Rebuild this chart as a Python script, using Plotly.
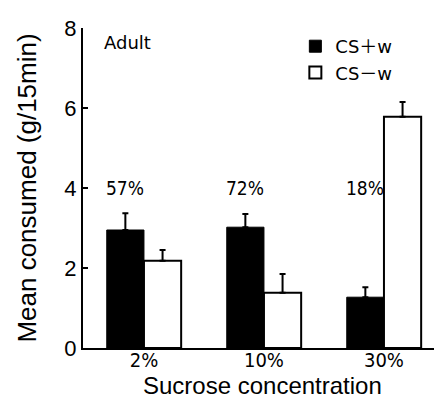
import plotly.graph_objects as go

categories = ["2%", "10%", "30%"]
cs_plus = [2.95, 3.02, 1.27]
cs_plus_err = [0.42, 0.33, 0.25]
cs_minus = [2.18, 1.38, 5.78]
cs_minus_err = [0.27, 0.47, 0.37]
pct_labels = ["57%", "72%", "18%"]
pct_y = 4.0

xpos = list(range(len(categories)))
bw = 0.31
narrow = "Liberation Sans Narrow, Arial Narrow, DejaVu Sans Condensed, sans-serif"

fig = go.Figure()
fig.add_trace(go.Bar(
    x=xpos, y=cs_plus, width=bw, offset=-bw, name="CS\uff0bw",
    marker=dict(color="black", line=dict(color="black", width=1)),
    error_y=dict(type="data", array=cs_plus_err, arrayminus=[0]*3, symmetric=False,
                 color="black", thickness=2, width=3),
))
fig.add_trace(go.Bar(
    x=xpos, y=cs_minus, width=bw, offset=0, name="CS\uff0dw",
    marker=dict(color="white", line=dict(color="black", width=2)),
    error_y=dict(type="data", array=cs_minus_err, arrayminus=[0]*3, symmetric=False,
                 color="black", thickness=2, width=3),
))

for x, t in zip(xpos, pct_labels):
    fig.add_annotation(x=x - bw/2, y=pct_y, text=t, showarrow=False,
                       font=dict(size=19, family=narrow, color="black"))

fig.add_annotation(xref="paper", yref="paper", x=0.054, y=0.955, text="Adult", showarrow=False,
                   xanchor="left", yanchor="middle",
                   font=dict(size=18, family="DejaVu Sans, sans-serif", color="black"))

# x-axis title placed as annotation to sit close under the tick labels
fig.add_annotation(xref="paper", yref="paper", x=0.51, y=-0.1625, text="Sucrose concentration",
                   showarrow=False, xanchor="center", yanchor="bottom", borderpad=0,
                   font=dict(size=24, color="black"))

fig.update_layout(
    width=434, height=400,
    margin=dict(l=83, r=0, t=28, b=52),
    paper_bgcolor="white", plot_bgcolor="white",
    font=dict(family="Liberation Sans, Noto Sans CJK JP, Arial, sans-serif", color="black"),
    showlegend=True,
    legend=dict(x=0.605, y=1.0, xanchor="left", yanchor="top",
                font=dict(size=18, family="DejaVu Sans, Noto Sans CJK JP, sans-serif"),
                bgcolor="rgba(0,0,0,0)", itemwidth=30, tracegroupgap=0),
    xaxis=dict(range=[-0.508, 2.417], tickvals=xpos, ticktext=categories, showline=True,
               linecolor="black", linewidth=2, ticks="", showgrid=False, zeroline=False,
               automargin=False, tickfont=dict(size=20, family=narrow), ticklabelstandoff=-7),
    yaxis=dict(range=[0, 8], tickvals=[0, 2, 4, 6, 8], showline=True, linecolor="black", linewidth=2,
               ticks="inside", ticklen=5, tickwidth=2, tickcolor="black", showgrid=False, zeroline=False,
               automargin=False, tickfont=dict(size=22), ticklabelstandoff=0,
               title=dict(text="Mean consumed (g/15min)", font=dict(size=26), standoff=20)),
)

fig.write_html("out.html", post_script="document.body.style.margin='0';",
               config={"displayModeBar": False})
